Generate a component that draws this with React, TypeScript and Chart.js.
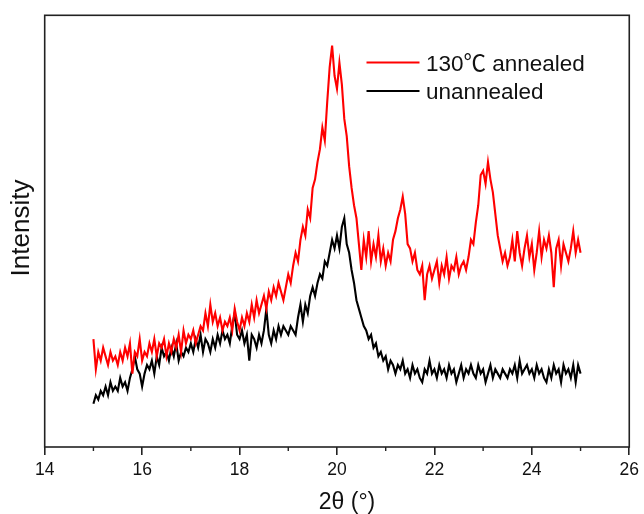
import React, { useEffect, useRef } from "react";
import { Chart, registerables } from "chart.js";

Chart.register(...registerables);

// Scan grid: 2θ from 15° to 25° in 0.05° steps
const scanStart = 15;
const scanStep = 0.05;
const twoTheta: number[] = Array.from({ length: 201 }, (_, i) => +(scanStart + i * scanStep).toFixed(2));

const annealed130: number[] = [
  25, 18, 22, 20, 23, 21, 19, 22, 20, 21, 19, 22, 20, 23, 21, 24, 17, 22, 21, 25,
  20, 22, 21, 24, 22, 25, 21, 24, 23, 25, 21, 24, 22, 25, 23, 26, 22, 27, 24, 26,
  25, 27, 24, 26, 28, 27, 31, 28, 33, 29, 31, 28, 30, 27, 29, 28, 30, 27, 32, 29,
  27, 30, 28, 31, 29, 33, 30, 34, 31, 33, 35, 32, 36, 34, 37, 35, 38, 36, 34, 37,
  40, 38, 42, 45, 43, 48, 51, 49, 55, 53, 60, 62, 66, 69, 74, 71, 80, 88, 93, 86,
  83, 89, 84, 76, 72, 65, 60, 56, 53, 47, 41, 48, 44, 50, 43, 47, 44, 49, 43, 46,
  42, 45, 43, 48, 50, 53, 55, 58, 54, 47, 46, 43, 45, 41, 40, 42, 34, 40, 42, 39,
  41, 43, 38, 42, 40, 44, 39, 42, 41, 44, 40, 42, 43, 41, 44, 48, 47, 52, 56, 63,
  64, 61, 66, 62, 59, 54, 49, 46, 43, 45, 42, 44, 48, 43, 50, 45, 42, 46, 49, 44,
  47, 41, 45, 50, 44, 48, 46, 49, 45, 37, 46, 48, 42, 47, 45, 43, 46, 50, 45, 48, 45,
];

const unannealed: number[] = [
  10, 12, 11, 13, 12, 14, 12, 15, 13, 14, 13, 16, 14, 15, 13, 16, 18, 21, 18, 17,
  14, 17, 19, 18, 20, 17, 21, 19, 23, 21, 22, 20, 23, 21, 24, 20, 22, 21, 23, 22,
  24, 22, 25, 23, 26, 22, 25, 24, 22, 25, 23, 26, 24, 27, 25, 26, 24, 28, 31, 26,
  25, 27, 24, 26, 20, 26, 25, 23, 26, 24, 27, 32, 26, 24, 27, 25, 28, 26, 28, 27,
  26, 28, 27, 26, 30, 33, 29, 33, 31, 35, 37, 35, 38, 40, 39, 43, 42, 45, 48, 46,
  49, 46, 51, 53, 47, 45, 41, 38, 34, 32, 30, 28, 27, 25, 26, 23, 24, 21, 22, 20,
  21, 18, 20, 19, 17, 19, 18, 20, 17, 18, 16, 19, 17, 18, 16, 15, 18, 17, 20, 17,
  18, 16, 19, 17, 18, 16, 19, 17, 18, 15, 17, 19, 16, 18, 17, 19, 17, 16, 19, 17,
  18, 15, 17, 19, 16, 18, 17, 16, 18, 17, 16, 18, 17, 19, 16, 20, 17, 18, 19, 17,
  18, 16, 19, 17, 18, 16, 15, 18, 16, 19, 17, 18, 15, 19, 17, 18, 16, 19, 15, 19, 17,
];

const seriesLabels = ["130\u2103 annealed", "unannealed"];
const seriesColors = ["#ff0000", "#000000"];
const xTickValues = [14, 16, 18, 20, 22, 24, 26];
const xMinorTicks = [15, 17, 19, 21, 23, 25];
const xTitle = "2\u03b8 (\u00b0)";
const yTitle = "Intensity";

const FONT = "'Liberation Sans', Arial, 'Noto Sans CJK SC', sans-serif";
const AXIS_COLOR = "#222";

export default function App() {
  const ref = useRef<HTMLCanvasElement | null>(null);

  useEffect(() => {
    if (!ref.current) return;

    const decor = {
      id: "decor",
      afterDraw(chart: any) {
        const ctx = chart.ctx;
        const { left, right, top, bottom } = chart.chartArea;
        const xs = chart.scales.x;
        ctx.save();
        // frame
        ctx.strokeStyle = AXIS_COLOR;
        ctx.lineWidth = 1.6;
        ctx.strokeRect(left, top, right - left, bottom - top);
        // minor ticks
        ctx.lineWidth = 1.4;
        xMinorTicks.forEach((v) => {
          const px = xs.getPixelForValue(v);
          ctx.beginPath();
          ctx.moveTo(px, bottom);
          ctx.lineTo(px, bottom + 4);
          ctx.stroke();
        });
        // axis titles
        ctx.fillStyle = "#111";
        ctx.font = `23px ${FONT}`;
        ctx.textAlign = "center";
        ctx.textBaseline = "alphabetic";
        ctx.fillText(xTitle, 347, 508.5);
        ctx.save();
        ctx.translate(29, 228);
        ctx.rotate(-Math.PI / 2);
        ctx.font = `26px ${FONT}`;
        ctx.fillText(yTitle, 0, 0);
        ctx.restore();
        // legend
        const legendY = [62.5, 91];
        const legendBase = [70.7, 98.5];
        chart.data.datasets.forEach((ds: any, i: number) => {
          ctx.strokeStyle = ds.borderColor;
          ctx.lineWidth = 2;
          ctx.beginPath();
          ctx.moveTo(366.5, legendY[i]);
          ctx.lineTo(419.5, legendY[i]);
          ctx.stroke();
          ctx.fillStyle = "#111";
          ctx.font = `22.5px ${FONT}`;
          ctx.textAlign = "left";
          ctx.fillText(ds.label, 426, legendBase[i]);
        });
        ctx.restore();
      },
    };

    const chart = new Chart(ref.current, {
      type: "line",
      data: {
        datasets: [
          {
            label: seriesLabels[0],
            data: twoTheta.map((x, i) => ({ x, y: annealed130[i] })),
            borderColor: seriesColors[0],
            borderWidth: 2.1,
            pointRadius: 0,
            tension: 0,
          },
          {
            label: seriesLabels[1],
            data: twoTheta.map((x, i) => ({ x, y: unannealed[i] })),
            borderColor: seriesColors[1],
            borderWidth: 2.1,
            pointRadius: 0,
            tension: 0,
          },
        ],
      },
      options: {
        animation: false,
        responsive: false,
        layout: { padding: { left: 0, right: 12.3, top: 15.3, bottom: 0 } },
        plugins: { legend: { display: false }, tooltip: { enabled: false } },
        scales: {
          x: {
            type: "linear",
            min: 14,
            max: 26,
            afterFit: (s: any) => {
              s.height = 67;
            },
            afterBuildTicks: (s: any) => {
              s.ticks = xTickValues.map((v) => ({ value: v }));
            },
            ticks: {
              color: "#111",
              font: { family: FONT, size: 17.5 },
              padding: 5,
              maxRotation: 0,
              callback: (v: any) => String(v),
            },
            grid: {
              display: true,
              drawOnChartArea: false,
              drawTicks: true,
              tickLength: 8,
              color: AXIS_COLOR,
              lineWidth: 1.6,
            },
            border: { display: false },
            title: { display: false },
          },
          y: {
            min: 0,
            max: 100,
            afterFit: (s: any) => {
              s.width = 44.7;
            },
            ticks: { display: false },
            grid: { display: false },
            border: { display: false },
            title: { display: false },
          },
        },
      },
      plugins: [decor],
    });

    return () => chart.destroy();
  }, []);

  return (
    <div style={{ position: "absolute", left: 0, top: 0, width: 644, height: 514, background: "#fff" }}>
      <canvas ref={ref} width={644} height={514} />
    </div>
  );
}
